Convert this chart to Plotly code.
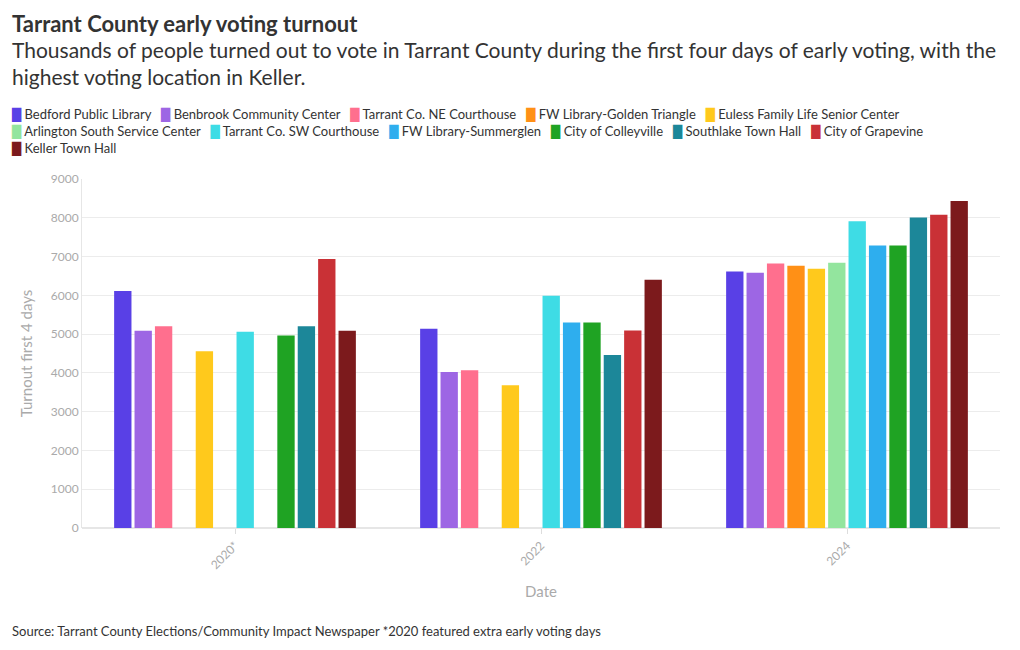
import plotly.graph_objects as go

years = ["2020*", "2022", "2024"]

locations = [
    "Bedford Public Library", "Benbrook Community Center", "Tarrant Co. NE Courthouse",
    "FW Library-Golden Triangle", "Euless Family Life Senior Center",
    "Arlington South Service Center", "Tarrant Co. SW Courthouse", "FW Library-Summerglen",
    "City of Colleyville", "Southlake Town Hall", "City of Grapevine", "Keller Town Hall",
]

colors = [
    "#5940E6", "#9D66E4", "#FF6F8E", "#FF9016", "#FFC91C", "#93E59E",
    "#3EDCE5", "#2EAEEE", "#1FA323", "#1C8799", "#C93136", "#7C1A1C",
]

bedford = [6110, 5140, 6615]
benbrook = [5085, 4020, 6580]
ne_courthouse = [5200, 4065, 6820]
golden_triangle = [None, None, 6760]
euless = [4560, 3680, 6685]
arlington_south = [None, None, 6840]
sw_courthouse = [5060, 5990, 7910]
summerglen = [None, 5300, 7285]
colleyville = [4965, 5300, 7285]
southlake = [5200, 4460, 8005]
grapevine = [6940, 5095, 8075]
keller = [5085, 6400, 8435]

series = [bedford, benbrook, ne_courthouse, golden_triangle, euless, arlington_south,
          sw_courthouse, summerglen, colleyville, southlake, grapevine, keller]

FONT = "Lato"

fig = go.Figure()
for name, color, vals in zip(locations, colors, series):
    fig.add_trace(go.Bar(x=years, y=vals, name=name, marker_color=color,
                         marker_line_width=0, showlegend=False))

# legend rows built from the location/colour lists
rows = [range(0, 5), range(5, 11), range(11, 12)]
legend_lines = []
for r in rows:
    parts = []
    for i in r:
        parts.append(f"<span style='color:{colors[i]};font-family:DejaVu Sans;font-size:12px'>█</span>&nbsp;{locations[i]}")
    legend_lines.append("&nbsp;&nbsp;&nbsp;".join(parts))
legend_text = "<br>".join(legend_lines)

def py(p):
    return (528 - p) / 349

def px(p):
    return (p - 82) / 918

annotations = [
    dict(text="<b>Tarrant County early voting turnout</b>", x=px(10), y=py(23),
         xanchor="left", yanchor="middle", font=dict(size=22, color="#333333", family=FONT)),
    dict(text="Thousands of people turned out to vote in Tarrant County during the first four days of early voting, with the<br>highest voting location in Keller.",
         x=px(10), y=py(63), xanchor="left", yanchor="middle", align="left",
         font=dict(size=21, color="#333333", family=FONT)),
    dict(text=legend_text, x=px(9), y=py(131), xanchor="left", yanchor="middle", align="left",
         font=dict(size=13, color="#333333", family=FONT)),
    dict(text="Source: Tarrant County Elections/Community Impact Newspaper *2020 featured extra early voting days",
         x=px(10), y=py(631), xanchor="left", yanchor="middle",
         font=dict(size=13, color="#333333", family=FONT)),
]
for a in annotations:
    a.update(xref="paper", yref="paper", showarrow=False)

fig.update_layout(
    width=1020, height=650,
    margin=dict(l=82, r=20, t=179, b=122),
    paper_bgcolor="white", plot_bgcolor="white",
    barmode="group", bargap=0.2, bargroupgap=0.15,
    font=dict(family=FONT, color="#aaaaaa"),
    annotations=annotations,
    showlegend=False,
)
fig.update_yaxes(range=[0, 9000], dtick=1000, gridcolor="#ececec", showline=True,
                 linecolor="#e6e6e6", zeroline=True, zerolinecolor="#e6e6e6",
                 tickfont=dict(size=12, color="#aaaaaa"),
                 title=dict(text="Turnout first 4 days", font=dict(size=15, color="#aaaaaa"), standoff=14))
fig.update_xaxes(tickangle=-45, ticks="outside", ticklen=5, tickcolor="#dddddd",
                 tickfont=dict(size=12, color="#aaaaaa"),
                 title=dict(text="Date", font=dict(size=15, color="#aaaaaa")))

fig.write_html("out.html")
